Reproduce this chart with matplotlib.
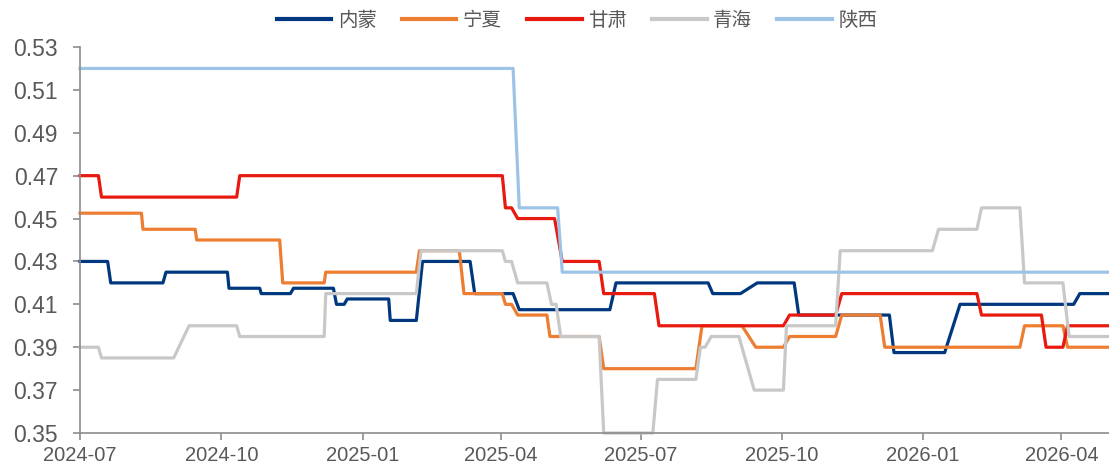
import pandas as pd
import matplotlib
matplotlib.use("Agg")
import matplotlib.pyplot as plt
import matplotlib.dates as mdates

# vertices of each price line (date, value)
nm_dates = ["2024-07-01", "2024-07-19", "2024-07-21", "2024-08-24", "2024-08-26", "2024-10-05", "2024-10-06",
            "2024-10-26", "2024-10-27", "2024-11-15", "2024-11-17", "2024-12-13", "2024-12-15", "2024-12-20",
            "2024-12-22", "2025-01-18", "2025-01-19", "2025-02-05", "2025-02-09", "2025-03-12", "2025-03-15",
            "2025-04-09", "2025-04-13", "2025-06-11", "2025-06-15", "2025-08-14", "2025-08-17", "2025-09-04",
            "2025-09-15", "2025-10-09", "2025-10-12", "2025-12-10", "2025-12-13", "2026-01-15", "2026-01-25",
            "2026-04-09", "2026-04-13", "2026-05-02"]
nm_vals = [0.43, 0.43, 0.42, 0.42, 0.425, 0.425, 0.4175,
           0.4175, 0.415, 0.415, 0.4175, 0.4175, 0.41, 0.41,
           0.4125, 0.4125, 0.4025, 0.4025, 0.43, 0.43, 0.415,
           0.415, 0.4075, 0.4075, 0.42, 0.42, 0.415, 0.415,
           0.42, 0.42, 0.405, 0.405, 0.3875, 0.3875, 0.41,
           0.41, 0.415, 0.415]

nx_dates = ["2024-07-01", "2024-08-10", "2024-08-11", "2024-09-14", "2024-09-15", "2024-11-08", "2024-11-10",
            "2024-12-07", "2024-12-08", "2025-02-05", "2025-02-07", "2025-03-05", "2025-03-08", "2025-04-02",
            "2025-04-04", "2025-04-08", "2025-04-12", "2025-05-01", "2025-05-03", "2025-06-04", "2025-06-07",
            "2025-08-06", "2025-08-10", "2025-09-05", "2025-09-14", "2025-10-02", "2025-10-06", "2025-11-05",
            "2025-11-09", "2025-12-04", "2025-12-07", "2026-03-05", "2026-03-08", "2026-04-02", "2026-04-05",
            "2026-05-02"]
nx_vals = [0.4525, 0.4525, 0.445, 0.445, 0.44, 0.44, 0.42,
           0.42, 0.425, 0.425, 0.435, 0.435, 0.415, 0.415,
           0.41, 0.41, 0.405, 0.405, 0.395, 0.395, 0.38,
           0.38, 0.40, 0.40, 0.39, 0.39, 0.395, 0.395,
           0.405, 0.405, 0.39, 0.39, 0.40, 0.40, 0.39,
           0.39]

gs_dates = ["2024-07-01", "2024-07-13", "2024-07-15", "2024-10-11", "2024-10-13", "2025-04-02", "2025-04-04",
            "2025-04-08", "2025-04-12", "2025-05-06", "2025-05-11", "2025-06-04", "2025-06-07", "2025-07-10",
            "2025-07-13", "2025-10-02", "2025-10-06", "2025-11-05", "2025-11-09", "2026-02-05", "2026-02-08",
            "2026-03-19", "2026-03-22", "2026-04-02", "2026-04-05", "2026-05-02"]
gs_vals = [0.47, 0.47, 0.46, 0.46, 0.47, 0.47, 0.455,
           0.455, 0.45, 0.45, 0.43, 0.43, 0.415, 0.415,
           0.40, 0.40, 0.405, 0.405, 0.415, 0.415, 0.405,
           0.405, 0.39, 0.39, 0.40, 0.40]

qh_dates = ["2024-07-01", "2024-07-13", "2024-07-15", "2024-08-31", "2024-09-10", "2024-10-11", "2024-10-13",
            "2024-12-07", "2024-12-08", "2025-02-05", "2025-02-08", "2025-04-02", "2025-04-04", "2025-04-08",
            "2025-04-12", "2025-05-01", "2025-05-04", "2025-05-07", "2025-05-10", "2025-06-04", "2025-06-07",
            "2025-07-09", "2025-07-12", "2025-08-06", "2025-08-09", "2025-08-12", "2025-08-16", "2025-09-03",
            "2025-09-13", "2025-10-02", "2025-10-04", "2025-11-05", "2025-11-08", "2026-01-07", "2026-01-11",
            "2026-02-05", "2026-02-08", "2026-03-05", "2026-03-08", "2026-04-02", "2026-04-06", "2026-05-02"]
qh_vals = [0.39, 0.39, 0.385, 0.385, 0.40, 0.40, 0.395,
           0.395, 0.415, 0.415, 0.435, 0.435, 0.43, 0.43,
           0.42, 0.42, 0.41, 0.41, 0.395, 0.395, 0.35,
           0.35, 0.375, 0.375, 0.39, 0.39, 0.395, 0.395,
           0.37, 0.37, 0.40, 0.40, 0.435, 0.435, 0.445,
           0.445, 0.455, 0.455, 0.42, 0.42, 0.395, 0.395]

sx_dates = ["2024-07-01", "2025-04-09", "2025-04-13", "2025-05-08", "2025-05-11", "2026-05-02"]
sx_vals = [0.52, 0.52, 0.455, 0.455, 0.425, 0.425]

series = [
    ("内蒙", nm_dates, nm_vals, "#00387F"),
    ("宁夏", nx_dates, nx_vals, "#ED7D31"),
    ("甘肃", gs_dates, gs_vals, "#E8190F"),
    ("青海", qh_dates, qh_vals, "#C8C8C8"),
    ("陕西", sx_dates, sx_vals, "#9DC3E6"),
]

fig = plt.figure(figsize=(11.09, 4.67), dpi=100)
ax = fig.add_axes([80 / 1109, 1 - 433 / 467, 1 - 80 / 1109, (433 - 47) / 467])

for name, d, v, c in series:
    ax.plot(pd.to_datetime(d), v, color=c, lw=2.3, label=name, clip_on=False,
            solid_joinstyle="round")

ax.set_ylim(0.35, 0.53)
ax.set_yticks([0.35, 0.37, 0.39, 0.41, 0.43, 0.45, 0.47, 0.49, 0.51, 0.53])
ax.set_yticklabels(["%.2f" % t for t in ax.get_yticks()])
ax.set_xlim(pd.Timestamp("2024-07-01"), pd.Timestamp("2026-05-02"))
ax.set_xticks(pd.to_datetime(["2024-07-01", "2024-10-01", "2025-01-01", "2025-04-01",
                              "2025-07-01", "2025-10-01", "2026-01-01", "2026-04-01"]))
ax.xaxis.set_major_formatter(mdates.DateFormatter("%Y-%m"))

for s in ["top", "right"]:
    ax.spines[s].set_visible(False)
for s in ["left", "bottom"]:
    ax.spines[s].set_color("#8C8C8C")
    ax.spines[s].set_linewidth(1.2)
ax.tick_params(axis="both", colors="#8C8C8C", width=1.2, length=5.3, direction="out")
ax.tick_params(axis="y", labelsize=16.5, labelcolor="#595959", pad=10.5)
ax.tick_params(axis="x", labelsize=14.5, labelcolor="#595959", pad=4)
for lab in ax.get_xticklabels() + ax.get_yticklabels():
    lab.set_family("Liberation Sans")

leg = fig.legend(loc="center", bbox_to_anchor=(577 / 1109, 1 - 20 / 467), ncol=5, frameon=False,
                 prop={"family": ["Noto Sans CJK SC", "DejaVu Sans"], "size": 14},
                 handlelength=2.8, handletextpad=0.33, columnspacing=1.3)
for t in leg.get_texts():
    t.set_color("#595959")
for h in leg.get_lines():
    h.set_linewidth(3)

fig.savefig("out.png", dpi=100)
